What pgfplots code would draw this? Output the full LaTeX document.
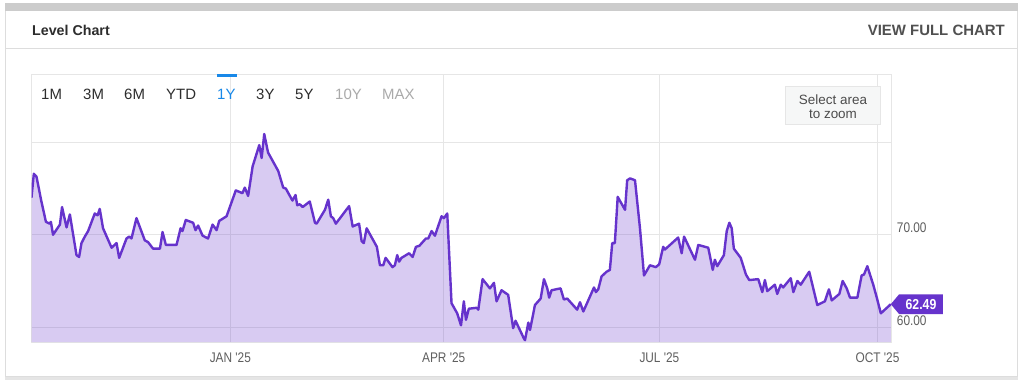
\documentclass[border=0pt]{standalone}
\usepackage{pgfplots}
\pgfplotsset{compat=1.18}
\usepackage{fontspec}
\setmainfont{Liberation Sans}
\newfontfamily\cond[FakeStretch=0.85]{Liberation Sans}
\definecolor{linecol}{RGB}{102,51,204}
\definecolor{gridgray}{RGB}{230,230,230}
\definecolor{labgray}{RGB}{95,95,95}
\definecolor{darktxt}{RGB}{45,45,45}
\definecolor{hdrgray}{RGB}{80,80,80}
\definecolor{btnblue}{RGB}{24,136,232}
\definecolor{btngray}{RGB}{170,170,170}
\definecolor{cardline}{RGB}{221,221,221}
\definecolor{boxfill}{RGB}{246,247,247}
\pgfplotstableread{
d v
-83.9 74.0
-82.9 76.6
-81.8 76.3
-79.7 73.6
-77.8 71.4
-76.2 71.2
-75.7 71.4
-74.8 70.0
-71.9 71.1
-71.0 73.0
-69.1 70.8
-67.7 72.2
-64.9 67.8
-63.8 67.6
-62.8 69.1
-61.4 69.8
-60.0 70.4
-57.2 72.3
-56.0 72.1
-55.1 72.8
-53.7 70.7
-50.1 68.6
-48.0 69.1
-46.9 67.5
-43.8 69.6
-42.7 69.8
-41.7 69.6
-39.6 71.8
-36.1 69.4
-34.7 69.2
-32.6 68.5
-29.7 68.5
-28.6 70.3
-27.2 68.9
-22.7 68.9
-21.0 70.7
-20.2 70.4
-18.8 71.6
-15.7 71.3
-14.7 70.5
-13.6 71.0
-11.7 69.9
-9.4 69.6
-7.5 71.1
-5.8 70.5
-4.7 71.5
-1.6 72.0
2.3 74.8
5.1 74.5
6.1 75.1
7.5 74.2
9.4 77.4
12.2 79.7
13.2 78.3
14.3 80.9
15.9 78.9
20.2 76.9
22.3 75.1
23.4 75.0
26.2 73.7
27.5 74.3
28.2 73.2
29.3 73.3
30.5 73.0
33.5 73.6
35.7 71.3
36.4 71.2
39.9 72.7
41.3 73.8
42.4 72.0
43.4 71.8
44.5 71.2
50.1 73.1
51.6 70.9
54.3 71.2
55.4 69.3
56.3 69.1
57.5 70.7
61.8 68.7
63.1 66.7
64.5 66.7
65.5 67.5
68.4 66.5
69.4 66.7
70.4 67.8
71.2 67.1
72.2 67.5
75.4 68.0
76.9 67.6
78.3 68.7
79.7 68.8
82.5 69.6
83.5 69.6
84.9 70.4
86.3 69.9
89.1 72.0
90.1 71.8
91.5 72.3
93.3 62.6
95.7 61.5
97.3 60.2
98.5 62.8
99.4 60.8
100.6 62.0
103.9 62.1
104.6 61.9
106.4 65.2
109.5 64.2
111.2 64.8
112.3 62.8
114.4 64.0
117.2 63.5
119.3 59.9
120.3 60.7
123.8 58.8
124.3 58.6
125.7 60.5
126.4 59.7
128.5 62.4
130.9 63.1
132.3 65.2
133.7 64.2
134.5 63.2
135.5 64.0
139.3 64.2
140.7 63.0
142.1 63.1
146.3 61.9
147.5 62.7
148.9 61.7
153.4 64.3
154.2 63.8
155.2 64.1
156.6 65.5
158.7 66.0
160.1 66.2
161.1 69.1
162.2 69.1
163.4 74.1
166.5 72.7
167.4 75.9
168.6 76.1
170.7 75.9
172.8 70.7
174.5 65.6
177.0 66.7
179.5 66.5
180.9 66.8
182.6 68.7
183.3 68.4
188.9 69.7
190.4 68.0
191.4 69.8
196.0 67.3
197.4 68.9
201.6 68.6
203.5 66.2
204.4 67.3
205.4 66.6
208.2 67.8
209.4 70.4
210.5 71.3
211.5 70.7
212.4 68.5
215.3 67.5
217.5 65.7
218.9 65.1
222.7 65.2
224.4 63.8
225.5 65.1
226.5 63.9
229.7 64.6
230.7 63.6
232.2 64.6
233.2 64.3
236.4 65.3
237.5 63.8
239.2 65.0
240.6 64.6
244.2 66.0
245.9 64.2
247.6 62.4
250.8 62.8
252.5 64.1
253.7 62.9
256.9 63.6
258.3 65.0
260.0 64.2
261.4 63.2
264.5 63.2
266.3 65.6
267.3 65.7
268.7 66.6
271.2 64.6
272.7 63.2
274.4 61.5
278.6 62.49
}\leveldata
\begin{document}
\begin{tikzpicture}[x=1bp,y=1bp]
\useasboundingbox (0,0) rectangle (1024,384);
% card
\fill[white] (0,0) rectangle (1024,384);
\fill[black!20] (5,373.3) rectangle (1018,381);
\fill[black!10] (5,4.5) rectangle (1018,8);
\draw[cardline, line width=1bp] (5.5,373.3) -- (5.5,8) -- (1017.5,8) -- (1017.5,373.3);
\draw[cardline, line width=1bp] (5.5,336) -- (1017.5,336);
\node[anchor=base west, inner sep=0, text=darktxt, font=\fontsize{14.3}{16}\selectfont\bfseries] at (32,349) {Level Chart};
\node[anchor=base east, inner sep=0, text=hdrgray, font=\fontsize{15}{17}\selectfont\bfseries] at (1005,349) {VIEW FULL CHART};
\begin{scope}[shift={(31.7bp,42bp)}]
\begin{axis}[
  at={(0pt,0pt)}, anchor=south west,
  width=859.3bp, height=267.7bp, scale only axis,
  xmin=-83.8, xmax=278.7, ymin=58.4, ymax=87.36,
  axis line style={draw=gridgray, line width=1bp},
  xtick={0,90,181,273},
  xticklabels={JAN '25,APR '25,JUL '25,OCT '25},
  ytick={60,70,80},
  yticklabels={60.00,70.00,{}},
  yticklabel pos=right,
  major tick length=0,
  grid=major,
  major grid style={draw=gridgray, line width=1bp},
  tick label style={font=\cond\fontsize{14}{14}\selectfont, text=labgray, inner sep=0},
  xticklabel style={anchor=base, yshift=-20bp},
  yticklabel style={anchor=base west, xshift=5.7bp, yshift=2bp},
  clip mode=individual,
]
\addplot[draw=none, fill=linecol, fill opacity=0.25] table[x=d,y=v] {\leveldata} \closedcycle;
\addplot[linecol, line width=2.4bp, line join=round, mark=none] table[x=d,y=v] {\leveldata};
\fill[linecol] (axis cs:278.6,62.49) -- ++(8.3bp,9.85bp) -- ++(43.7bp,0bp) -- ++(0bp,-19.7bp) -- ++(-43.7bp,0bp) -- cycle;
\node[anchor=center, inner sep=0, text=white, font=\cond\fontsize{14.5}{14}\selectfont\bfseries] at ([xshift=30.2bp]axis cs:278.6,62.49) {62.49};
\end{axis}
\end{scope}
% range buttons
\begin{scope}[every node/.style={anchor=base west, inner sep=0, font=\fontsize{15}{17}\selectfont}]
\node[text=darktxt] at (41,284.7) {1M};
\node[text=darktxt] at (83,284.7) {3M};
\node[text=darktxt] at (124,284.7) {6M};
\node[text=darktxt] at (166,284.7) {YTD};
\node[text=btnblue] at (217,284.7) {1Y};
\node[text=darktxt] at (256,284.7) {3Y};
\node[text=darktxt] at (295,284.7) {5Y};
\node[text=btngray] at (335,284.7) {10Y};
\node[text=btngray] at (382,284.7) {MAX};
\end{scope}
\fill[btnblue] (217,307.3) rectangle (236.7,310);
% select area box
\filldraw[fill=boxfill, draw=gridgray, line width=1bp] (785,260) rectangle (880,298);
\node[anchor=base, inner sep=0, text=black!70, font=\fontsize{13.5}{15}\selectfont] at (833,280) {Select area};
\node[anchor=base, inner sep=0, text=black!70, font=\fontsize{13.5}{15}\selectfont] at (833,265.3) {to zoom};
\end{tikzpicture}
\end{document}
